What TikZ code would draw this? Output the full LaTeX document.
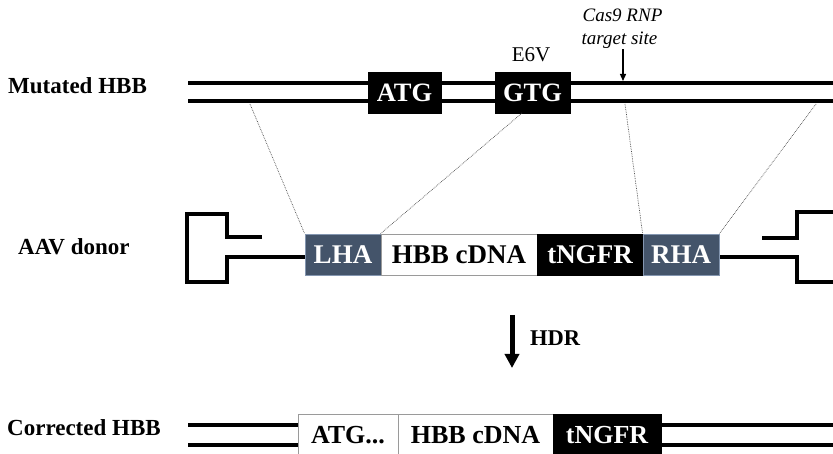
\documentclass[tikz,border=0pt]{standalone}
\usepackage{fontspec}
\setmainfont{Liberation Serif}
\usetikzlibrary{arrows.meta}
\definecolor{slate}{HTML}{44546A}
\definecolor{slateedge}{HTML}{8496B0}
\definecolor{boxedge}{HTML}{9A9A9A}
\begin{document}
\begin{tikzpicture}[x=1pt,y=-1pt,
  strand/.style={line width=4.5pt},
  vector/.style={line width=3.6pt, line join=miter},
  lab/.style={font=\fontsize{23}{27}\selectfont\bfseries, inner sep=0pt, anchor=base west},
  seg/.style={inner sep=0pt, minimum height=41pt, text height=18pt, text depth=0pt, font=\fontsize{27}{30}\selectfont\bfseries},
  blk/.style={seg, fill=black, text=white, draw=black, line width=0.6pt},
  arm/.style={seg, fill=slate, text=white, draw=slateedge, line width=0.8pt},
  wht/.style={seg, fill=white, draw=boxedge, line width=0.8pt},
  guide/.style={densely dotted, line width=0.7pt, draw=black!70}
]
\clip (0,0) rectangle (833,454);
\fill[white] (0,0) rectangle (833,454);

% ---------- Mutated HBB ----------
\coordinate (m1L) at (188,83);  \coordinate (m1R) at (836,83);
\coordinate (m2L) at (188,101); \coordinate (m2R) at (836,101);
\draw[strand] (m1L) -- (m1R);
\draw[strand] (m2L) -- (m2R);
\node[blk, minimum width=73pt, font=\fontsize{26.5}{30}\selectfont\bfseries] (atg) at (404.5,92.5) {ATG};
\node[blk, minimum width=75pt, font=\fontsize{26.5}{30}\selectfont\bfseries] (gtg) at (532.5,92.5) {GTG};
\node[lab] (mut) at (8,94) {Mutated HBB};
\node[font=\fontsize{21}{24}\selectfont, anchor=base, inner sep=0pt] (e6v) at (531,62) {E6V};
\node[font=\fontsize{19}{22}\selectfont\itshape, anchor=base, inner sep=0pt] (cas1) at (622.5,22) {Cas9 RNP};
\node[font=\fontsize{19}{22}\selectfont\itshape, anchor=base, inner sep=0pt] (cas2) at (619.5,45) {target site};
\coordinate (cut) at (623,81);
\draw[line width=1.3pt, -{Triangle[width=6pt,length=7pt]}] (cut |- cas2.south) -- (cut);

% ---------- AAV donor ----------
\node[lab] (aav) at (18,255) {AAV donor};
\coordinate (lfree) at (262,237);
\coordinate (rfree) at (762,238);
\draw[vector] (lfree) -- (227,237) -- (227,214) -- (187,214) -- (187,282) -- (227,282) -- (227,257) -- (305,257);
\draw[vector] (rfree) -- (797,238) -- (797,212) -- (836,212);
\draw[vector] (719,257) -- (797,257) -- (797,282) -- (836,282);
\node[arm, minimum width=76pt] (lha) at (343,254.5) {LHA};
\node[wht, minimum width=156pt] (cdna) at (459,254.5) {HBB cDNA};
\node[blk, minimum width=106pt] (ngfr) at (590,254.5) {tNGFR};
\node[arm, minimum width=76pt] (rha) at (681,254.5) {RHA};

% guide lines
\coordinate (d1) at (250,104);
\coordinate (d2) at (522,113);
\coordinate (d3) at (625,104);
\coordinate (d4) at (816,104);
\draw[guide] (d1) -- (lha.north west);
\draw[guide] (d2) -- (cdna.north west);
\draw[guide] (d3) -- (rha.north west);
\draw[guide] (d4) -- (rha.north east);

% ---------- HDR ----------
\coordinate (h1) at (512,315);
\coordinate (h2) at (512,368);
\draw[line width=5pt, -{Triangle[width=14pt,length=14pt]}] (h1) -- (h2);
\node[font=\fontsize{22.5}{26}\selectfont\bfseries, inner sep=0pt] (hdr) at (555,338) {HDR};

% ---------- Corrected HBB ----------
\node[lab] (cor) at (7,435) {Corrected HBB};
\coordinate (c1L) at (188,425); \coordinate (c1R) at (836,425);
\coordinate (c2L) at (188,445); \coordinate (c2R) at (836,445);
\node[wht, minimum width=100pt, font=\fontsize{26}{30}\selectfont\bfseries] (atg2) at (348,434.5) {ATG...};
\node[wht, minimum width=155pt, font=\fontsize{26}{30}\selectfont\bfseries] (cdna2) at (475.5,434.5) {HBB cDNA};
\node[blk, minimum width=108pt, font=\fontsize{26}{30}\selectfont\bfseries] (ngfr2) at (607,434.5) {tNGFR};
\draw[strand] (c1L) -- (atg2.west |- c1L);
\draw[strand] (c2L) -- (atg2.west |- c2L);
\draw[strand] (ngfr2.east |- c1R) -- (c1R);
\draw[strand] (ngfr2.east |- c2R) -- (c2R);
\end{tikzpicture}
\end{document}
